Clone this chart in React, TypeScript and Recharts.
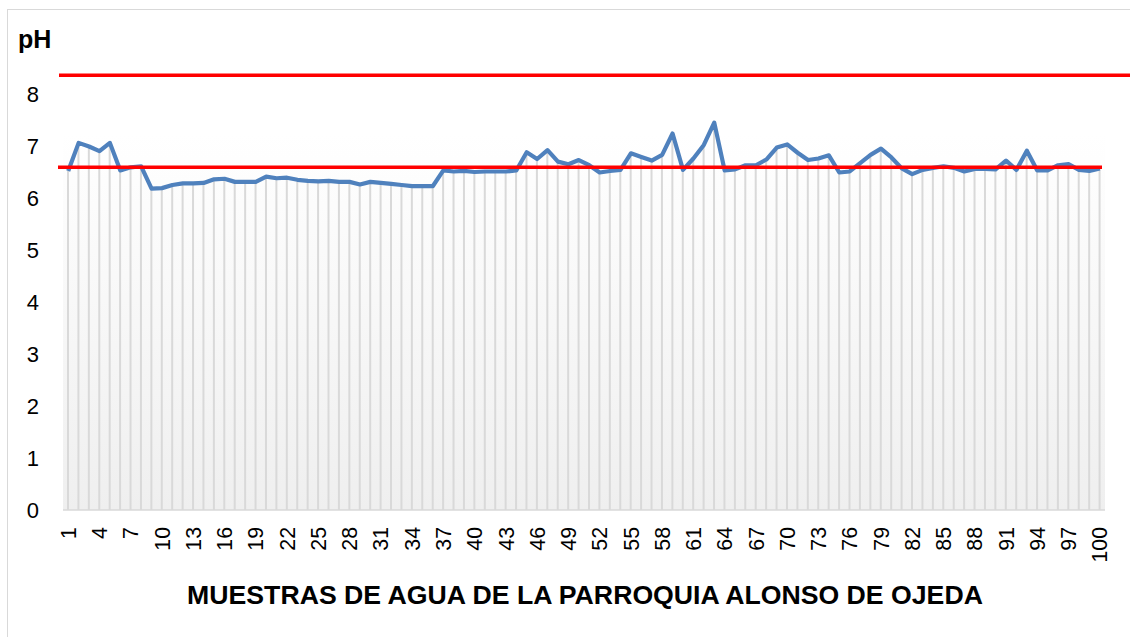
import React from "react";
import {
  ComposedChart,
  Bar,
  Line,
  XAxis,
  YAxis,
  CartesianGrid,
  ReferenceLine,
} from "recharts";

const sampleLabels: string[] = Array.from({ length: 100 }, (_, i) => String(i + 1));

const phValues: number[] = [
  6.52, 7.06, 6.99, 6.9, 7.06, 6.53, 6.59, 6.61, 6.18, 6.19,
  6.25, 6.28, 6.28, 6.29, 6.36, 6.37, 6.31, 6.31, 6.31, 6.41,
  6.38, 6.39, 6.35, 6.33, 6.32, 6.33, 6.31, 6.31, 6.26, 6.31,
  6.29, 6.27, 6.25, 6.23, 6.23, 6.23, 6.53, 6.51, 6.52, 6.5,
  6.51, 6.51, 6.51, 6.53, 6.88, 6.75, 6.92, 6.7, 6.65, 6.73,
  6.63, 6.49, 6.52, 6.54, 6.86, 6.79, 6.72, 6.83, 7.24, 6.54,
  6.76, 7.02, 7.45, 6.53, 6.55, 6.63, 6.63, 6.74, 6.97, 7.03,
  6.87, 6.73, 6.76, 6.82, 6.49, 6.51, 6.67, 6.83, 6.95, 6.78,
  6.57, 6.46, 6.54, 6.58, 6.61, 6.58, 6.51, 6.56, 6.56, 6.55,
  6.72, 6.54, 6.91, 6.53, 6.53, 6.63, 6.65, 6.54, 6.52, 6.57,
];

const yTicks: number[] = [0, 1, 2, 3, 4, 5, 6, 7, 8];
const upperLimit = 8.36;
const lowerLimit = 6.59;

const data = sampleLabels.map((label, i) => ({ muestra: label, ph: phValues[i] }));

const FONT = "'Liberation Sans', Arial, sans-serif";

const XTick = (props: any) => {
  const { x, y, payload } = props;
  return (
    <text
      transform={`translate(${x}, ${y + 9}) rotate(-90)`}
      textAnchor="end"
      dy="0.36em"
      fontFamily={FONT}
      fontSize={21.33}
      fill="#000"
    >
      {payload.value}
    </text>
  );
};

const RedLine = (extendLeft: number, extendRight: number) => (props: any) => {
  const { x1, y1, x2, y2 } = props;
  return (
    <line
      x1={x1 - extendLeft}
      y1={y1}
      x2={x2 + extendRight}
      y2={y2}
      stroke="#FF0000"
      strokeWidth={3.5}
    />
  );
};

export default function App() {
  return (
    <div
      style={{
        position: "fixed",
        left: 0,
        top: 0,
        width: 1130,
        height: 637,
        overflow: "hidden",
        background: "#fff",
      }}
    >
      <div
        style={{
          position: "absolute",
          left: 7,
          top: 9,
          width: 1300,
          height: 800,
          border: "1px solid #d9d9d9",
        }}
      />
      <div style={{ position: "absolute", left: 0, top: 0 }}>
        <ComposedChart
          width={1130}
          height={637}
          data={data}
          margin={{ top: 68, right: 25, bottom: 0, left: 0 }}
        >
          <defs>
            <linearGradient id="bgGrad" x1="0" y1="0" x2="0" y2="1">
              <stop offset="0%" stopColor="#ffffff" />
              <stop offset="15%" stopColor="#ffffff" />
              <stop offset="100%" stopColor="#efefef" />
            </linearGradient>
          </defs>
          <CartesianGrid horizontal={false} vertical={false} fill="url(#bgGrad)" />
          <XAxis
            dataKey="muestra"
            interval={2}
            height={127}
            tick={<XTick />}
            tickLine={false}
            axisLine={{ stroke: "#d9d9d9", strokeWidth: 1.5 }}
          />
          <YAxis
            domain={[0, 8.5]}
            ticks={yTicks}
            width={63}
            tickLine={false}
            axisLine={false}
            tickMargin={18}
            tick={{ fontFamily: FONT, fontSize: 22, fill: "#000" }}
          />
          <Bar dataKey="ph" barSize={2} fill="#d9d9d9" isAnimationActive={false} />
          <Line
            type="linear"
            dataKey="ph"
            stroke="#4F81BD"
            strokeWidth={4.2}
            strokeLinejoin="round"
            dot={false}
            activeDot={false}
            isAnimationActive={false}
          />
          <ReferenceLine y={upperLimit} shape={RedLine(4, 25)} />
          <ReferenceLine y={lowerLimit} shape={RedLine(5, -3)} />
        </ComposedChart>
      </div>
      <div
        style={{
          position: "absolute",
          left: 18,
          top: 27,
          fontFamily: FONT,
          fontWeight: "bold",
          fontSize: 25,
          lineHeight: 1,
          color: "#000",
        }}
      >
        pH
      </div>
      <div
        style={{
          position: "absolute",
          left: 585,
          top: 582,
          transform: "translateX(-50%)",
          whiteSpace: "nowrap",
          fontFamily: FONT,
          fontWeight: "bold",
          fontSize: 26.67,
          lineHeight: 1,
          color: "#000",
        }}
      >
        MUESTRAS DE AGUA DE LA PARROQUIA ALONSO DE OJEDA
      </div>
    </div>
  );
}
